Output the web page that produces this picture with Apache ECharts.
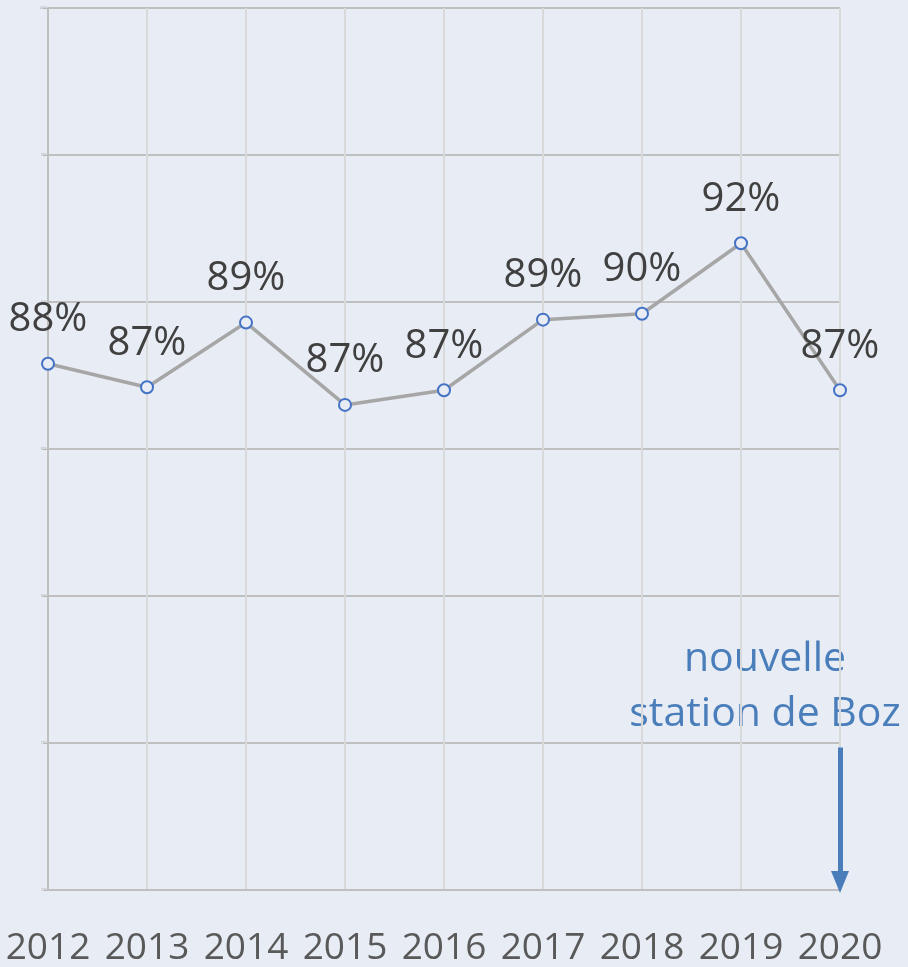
<!DOCTYPE html>
<html>
<head>
<meta charset="utf-8">
<script src="https://cdn.jsdelivr.net/npm/echarts@6/dist/echarts.min.js"></script>
<style>
  html, body { margin: 0; padding: 0; background: #E8ECF4; }
  #main { width: 908px; height: 967px; }
</style>
</head>
<body>
<div id="main"></div>
<script>
var years = ['2012', '2013', '2014', '2015', '2016', '2017', '2018', '2019', '2020'];
var rates = [0.879, 0.871, 0.893, 0.865, 0.870, 0.894, 0.896, 0.920, 0.870];
var arrowFrom = 0.7485;
var arrowTo = 0.7027;
var noteLines = ['nouvelle', 'station de Boz'];

var chart = echarts.init(document.getElementById('main'));

var option = {
    backgroundColor: '#E8ECF4',
    animation: false,
    grid: { left: 48, right: 68, top: 8, bottom: 72 },
    xAxis: {
        type: 'category',
        data: years,
        boundaryGap: false,
        axisLine: { lineStyle: { color: '#BFBFBF', width: 2 } },
        axisTick: { show: false },
        splitLine: { show: true, interval: 0, lineStyle: { color: '#D9D9D9', width: 2 } },
        axisLabel: {
            interval: 0,
            color: '#595959',
            fontFamily: 'Open Sans',
            fontSize: 37,
            margin: 40
        }
    },
    yAxis: {
        type: 'value',
        min: 0.7,
        max: 1.0,
        interval: 0.05,
        axisLine: { show: true, lineStyle: { color: '#BFBFBF', width: 2 } },
        axisTick: { show: true, length: 5, lineStyle: { color: '#BFBFBF' } },
        splitLine: { lineStyle: { color: '#BFBFBF', width: 2 } },
        axisLabel: {
            fontSize: 3,
            color: '#A6A6A6',
            margin: 1,
            formatter: function (v) { return Math.round(v * 100) + '%'; }
        }
    },
    series: [{
        type: 'line',
        data: rates,
        symbol: 'circle',
        symbolSize: 12,
        itemStyle: { color: '#E8ECF4', borderColor: '#4472C4', borderWidth: 2 },
        lineStyle: { color: '#A6A6A6', width: 3.5 },
        label: {
            show: true,
            position: 'top',
            distance: 17,
            color: '#404040',
            fontFamily: 'Open Sans',
            fontSize: 40,
            formatter: function (p) { return Math.round(p.value * 100) + '%'; }
        },
        markLine: {
            silent: true,
            symbol: ['none', 'triangle'],
            symbolSize: [18, 22],
            label: { show: false },
            lineStyle: { color: '#4A7EBB', width: 5, type: 'solid' },
            data: [[
                { coord: ['2020', arrowFrom] },
                { coord: ['2020', arrowTo] }
            ]]
        }
    }],
    graphic: [{
        type: 'text',
        x: 765,
        y: 632,
        style: {
            text: noteLines.join('\n'),
            fill: '#4A7EBB',
            font: '41px "Open Sans"',
            lineHeight: 55,
            textAlign: 'center'
        }
    }]
};

chart.setOption(option);
</script>
</body>
</html>
